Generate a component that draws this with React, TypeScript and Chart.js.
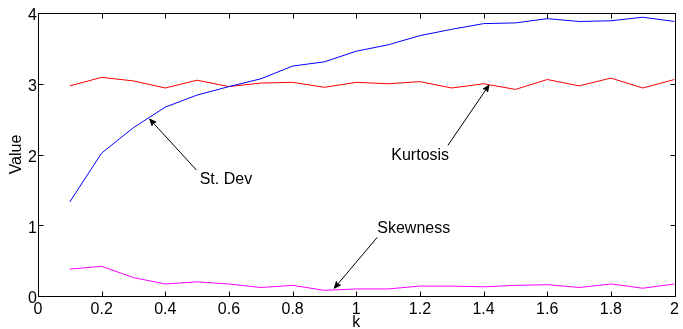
import React, { useEffect, useRef } from "react";
import { Chart, registerables } from "chart.js";

Chart.register(...registerables);

const kValues = [0.1, 0.2, 0.3, 0.4, 0.5, 0.6, 0.7, 0.8, 0.9, 1.0, 1.1, 1.2, 1.3, 1.4, 1.5, 1.6, 1.7, 1.8, 1.9, 2.0];
const stDev = [1.33, 2.02, 2.38, 2.67, 2.84, 2.96, 3.07, 3.25, 3.31, 3.46, 3.55, 3.68, 3.77, 3.85, 3.86, 3.92, 3.88, 3.89, 3.94, 3.88];
const kurtosis = [2.97, 3.09, 3.04, 2.94, 3.05, 2.96, 3.01, 3.02, 2.95, 3.02, 3.0, 3.03, 2.94, 3.0, 2.92, 3.06, 2.97, 3.08, 2.94, 3.06];
const skewness = [0.38, 0.42, 0.26, 0.17, 0.2, 0.17, 0.12, 0.15, 0.08, 0.1, 0.1, 0.14, 0.14, 0.13, 0.15, 0.16, 0.12, 0.17, 0.11, 0.17];

const xTicks = [0, 0.2, 0.4, 0.6, 0.8, 1, 1.2, 1.4, 1.6, 1.8, 2];
const yTicks = [0, 1, 2, 3, 4];

const annotationLabels = ["St. Dev", "Kurtosis", "Skewness"];
const annotationText = [[0.508, 1.64], [1.11, 1.98], [1.066, 0.95]];
const arrowTail = [[0.498, 1.78], [1.288, 2.13], [1.066, 0.83]];
const arrowTip = [[0.351, 2.5], [1.417, 2.98], [0.931, 0.11]];

const FONT = '"Liberation Sans", Arial, Helvetica, sans-serif';

const framePlugin = {
  id: "frame",
  afterDatasetsDraw(chart: any) {
    const { ctx, chartArea, scales } = chart;
    const { left, right, top, bottom } = chartArea;
    const x = scales.x;
    const y = scales.y;
    ctx.save();
    ctx.strokeStyle = "#000";
    ctx.lineWidth = 1;
    const L = Math.round(left) + 0.5;
    const R = Math.round(right) + 0.5;
    const T = Math.round(top) + 0.5;
    const B = Math.round(bottom) + 0.5;
    ctx.beginPath();
    ctx.rect(L, T, R - L, B - T);
    const len = 5;
    xTicks.forEach((v) => {
      const px = Math.round(x.getPixelForValue(v)) + 0.5;
      ctx.moveTo(px, B);
      ctx.lineTo(px, B - len);
      ctx.moveTo(px, T);
      ctx.lineTo(px, T + len);
    });
    yTicks.forEach((v) => {
      const py = Math.round(y.getPixelForValue(v)) + 0.5;
      ctx.moveTo(L, py);
      ctx.lineTo(L + len, py);
      ctx.moveTo(R, py);
      ctx.lineTo(R - len, py);
    });
    ctx.stroke();

    ctx.fillStyle = "#000";
    ctx.font = "16px " + FONT;
    ctx.textAlign = "left";
    ctx.textBaseline = "middle";
    annotationLabels.forEach((label, i) => {
      const tx = x.getPixelForValue(annotationText[i][0]);
      const ty = y.getPixelForValue(annotationText[i][1]);
      ctx.fillText(label, tx, ty);
      const x0 = x.getPixelForValue(arrowTail[i][0]);
      const y0 = y.getPixelForValue(arrowTail[i][1]);
      const x1 = x.getPixelForValue(arrowTip[i][0]);
      const y1 = y.getPixelForValue(arrowTip[i][1]);
      ctx.beginPath();
      ctx.moveTo(x0, y0);
      ctx.lineTo(x1, y1);
      ctx.stroke();
      const ang = Math.atan2(y1 - y0, x1 - x0);
      const hl = 7;
      const ha = 0.4;
      ctx.beginPath();
      ctx.moveTo(x1, y1);
      ctx.lineTo(x1 - hl * Math.cos(ang - ha), y1 - hl * Math.sin(ang - ha));
      ctx.lineTo(x1 - hl * 0.7 * Math.cos(ang), y1 - hl * 0.7 * Math.sin(ang));
      ctx.lineTo(x1 - hl * Math.cos(ang + ha), y1 - hl * Math.sin(ang + ha));
      ctx.closePath();
      ctx.fill();
      ctx.stroke();
    });
    ctx.restore();
  },
};

export default function App() {
  const canvasRef = useRef<HTMLCanvasElement | null>(null);

  useEffect(() => {
    document.body.style.margin = "0";
    const canvas = canvasRef.current;
    if (!canvas) return;
    const mk = (arr: number[]) => kValues.map((k, i) => ({ x: k, y: arr[i] }));
    const chart = new Chart(canvas, {
      type: "line",
      data: {
        datasets: [
          { label: "St. Dev", data: mk(stDev), borderColor: "#0000ff", borderWidth: 1, pointRadius: 0, fill: false, tension: 0 },
          { label: "Kurtosis", data: mk(kurtosis), borderColor: "#ff0000", borderWidth: 1, pointRadius: 0, fill: false, tension: 0 },
          { label: "Skewness", data: mk(skewness), borderColor: "#ff00ff", borderWidth: 1, pointRadius: 0, fill: false, tension: 0 },
        ],
      },
      options: {
        responsive: false,
        animation: false,
        devicePixelRatio: 1,
        layout: { padding: { left: 0, right: 7, top: 13, bottom: 0 } },
        plugins: { legend: { display: false }, tooltip: { enabled: false } },
        scales: {
          x: {
            type: "linear",
            min: 0,
            max: 2,
            afterBuildTicks: (s: any) => {
              s.ticks = xTicks.map((v) => ({ value: v }));
            },
            afterFit: (s: any) => {
              s.height = 33;
            },
            ticks: {
              callback: (v: any) => String(Math.round(Number(v) * 10) / 10),
              color: "#000",
              font: { family: FONT, size: 16 },
              padding: 4,
              maxRotation: 0,
              autoSkip: false,
            },
            grid: { display: false, drawTicks: false },
            border: { display: false },
            title: { display: true, text: "k", color: "#000", font: { family: FONT, size: 16, lineHeight: 1 }, padding: { top: 0, bottom: -2 } },
          },
          y: {
            type: "linear",
            min: 0,
            max: 4,
            afterBuildTicks: (s: any) => {
              s.ticks = yTicks.map((v) => ({ value: v }));
            },
            afterFit: (s: any) => {
              s.width = 38;
            },
            ticks: {
              color: "#000",
              font: { family: FONT, size: 16 },
              padding: 1,
              labelOffset: 3,
              autoSkip: false,
            },
            grid: { display: false, drawTicks: false },
            border: { display: false },
            title: { display: true, text: "Value", color: "#000", font: { family: FONT, size: 16, lineHeight: 1 }, padding: { top: 9, bottom: 0 } },
          },
        },
      },
      plugins: [framePlugin],
    } as any);
    return () => chart.destroy();
  }, []);

  return (
    <div style={{ width: 683, height: 329 }}>
      <canvas ref={canvasRef} width={683} height={329} style={{ display: "block" }} />
    </div>
  );
}
